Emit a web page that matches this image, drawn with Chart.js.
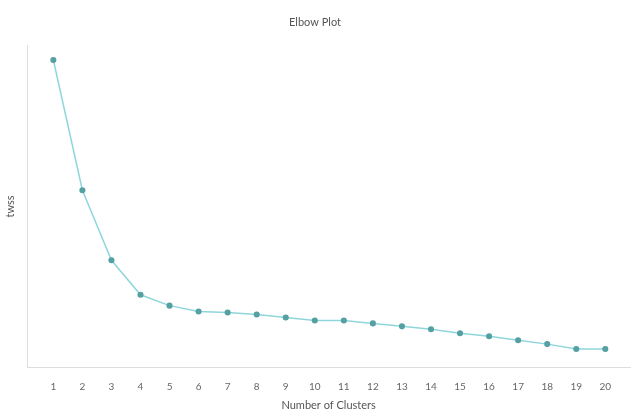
<!DOCTYPE html>
<html>
<head>
<meta charset="utf-8">
<script src="https://cdn.jsdelivr.net/npm/chart.js@4.4.1/dist/chart.umd.min.js"></script>
<style>
	html, body { margin: 0; padding: 0; background: #fff; }
	#wrap { width: 640px; height: 419px; }
</style>
</head>
<body>
<div id="wrap"><canvas id="elbowChart"></canvas></div>
<script>
// number of clusters and the within-cluster sum of squares for each
const clusters = [1, 2, 3, 4, 5, 6, 7, 8, 9, 10, 11, 12, 13, 14, 15, 16, 17, 18, 19, 20];
const twss = [312, 180, 109, 74, 63, 57, 56, 54, 51, 48, 48, 45, 42, 39, 35, 32, 28, 24, 19, 19];

const points = clusters.map((k, i) => ({ x: k, y: twss[i] }));

Chart.defaults.font.family = 'Lato, sans-serif';
Chart.defaults.color = '#666';

new Chart(document.getElementById('elbowChart'), {
	type: 'line',
	data: {
		datasets: [{
			label: 'twss',
			data: points,
			borderColor: '#8fd6dc',
			borderWidth: 1.5,
			pointBackgroundColor: '#55a0a2',
			pointBorderColor: '#55a0a2',
			pointRadius: 2.3,
			tension: 0
		}]
	},
	options: {
		responsive: true,
		maintainAspectRatio: false,
		animation: false,
		layout: { padding: { left: 0, right: 10, top: 0, bottom: 7 } },
		plugins: {
			legend: { display: false },
			title: {
				display: true,
				text: 'Elbow Plot',
				color: '#555',
				font: { size: 11, weight: 'normal' },
				padding: { top: 16, bottom: 16 }
			},
			tooltip: { enabled: false }
		},
		scales: {
			x: {
				type: 'linear',
				min: 0.1,
				max: 20.85,
				afterBuildTicks: axis => {
					axis.ticks = clusters.map(v => ({ value: v }));
				},
				grid: { display: false },
				border: { display: true, color: '#ddd' },
				ticks: { font: { size: 10 }, color: '#666', padding: 5 },
				title: {
					display: true,
					text: 'Number of Clusters',
					color: '#555',
					font: { size: 11 },
					padding: { top: 1, bottom: 0 }
				}
			},
			y: {
				min: 0,
				max: 327,
				grid: { display: false },
				border: { display: true, color: '#ddd' },
				ticks: { display: false },
				title: {
					display: true,
					text: 'twss',
					color: '#555',
					font: { size: 11 },
					padding: { top: 4, bottom: 2 }
				}
			}
		}
	}
});
</script>
</body>
</html>
